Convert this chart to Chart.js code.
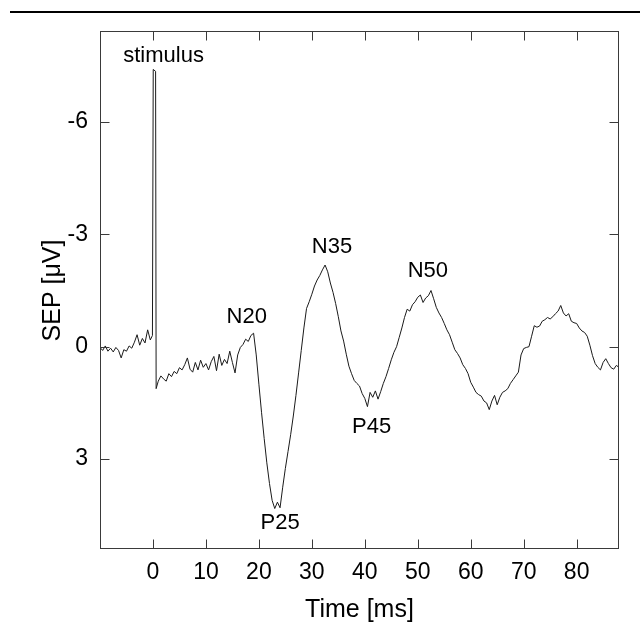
<!DOCTYPE html>
<html lang="en">
<head>
<meta charset="UTF-8">
<title>SEP</title>
<style>
  body { margin: 0; background: #fff; }
  #wrap { width: 640px; height: 626px; }
</style>
</head>
<body>
<div id="wrap"><canvas id="sepChart" width="640" height="626"></canvas></div>
<script src="https://cdn.jsdelivr.net/npm/chart.js"></script>
<script>
// time axis (ms)
const times = [
  -10, -9.5, -9, -8.5, -8, -7.5, -7, -6.5, -6, -5.5, -5, -4.5, -4, -3.5, -3, -2.5, -2, -1.5, -1, -0.5, -0.1,
  0.05, 0.5, 0.6,
  1, 1.5, 2, 2.5, 3, 3.5, 4, 4.5, 5, 5.5, 6, 6.5, 7, 7.5, 8, 8.5, 9, 9.5,
  10, 10.5, 11, 11.5, 12, 12.5, 13, 13.5, 14, 14.5, 15, 15.5, 16, 16.5, 17, 17.5, 18, 18.5, 19, 19.5,
  20, 20.5, 21, 21.5, 22, 22.5, 23, 23.5, 24, 24.5, 25, 25.5, 26, 26.5, 27, 27.5, 28, 28.5, 29, 29.5,
  30, 30.5, 31, 31.5, 32, 32.5, 33, 33.5, 34, 34.5, 35, 35.5, 36, 36.5, 37, 37.5, 38, 38.5, 39, 39.5,
  40, 40.5, 41, 41.5, 42, 42.5, 43, 43.5, 44, 44.5, 45, 45.5, 46, 46.5, 47, 47.5, 48, 48.5, 49, 49.5,
  50, 50.5, 51, 51.5, 52, 52.5, 53, 53.5, 54, 54.5, 55, 55.5, 56, 56.5, 57, 57.5, 58, 58.5, 59, 59.5,
  60, 60.5, 61, 61.5, 62, 62.5, 63, 63.5, 64, 64.5, 65, 65.5, 66, 66.5, 67, 67.5, 68, 68.5, 69, 69.5,
  70, 70.5, 71, 71.5, 72, 72.5, 73, 73.5, 74, 74.5, 75, 75.5, 76, 76.5, 77, 77.5, 78, 78.5, 79, 79.5,
  80, 80.5, 81, 81.5, 82, 82.5, 83, 83.5, 84, 84.5, 85, 85.5, 86, 86.5, 87, 87.5, 88
];
// SEP amplitude (uV), negative is up
const sep = [
  0.02, 0.10, -0.02, 0.12, 0.04, 0.14, 0.02, 0.10, 0.30, 0.08, 0.12, -0.02, 0.04, -0.12, -0.32, -0.04, -0.22, -0.10, -0.45, -0.18, -0.30,
  -7.4, -7.35, 1.12,
  0.92, 0.78, 0.86, 0.92, 0.72, 0.80, 0.66, 0.72, 0.56, 0.62, 0.48, 0.30, 0.60, 0.68, 0.42, 0.62, 0.36, 0.55,
  0.45, 0.62, 0.40, 0.26, 0.64, 0.20, 0.50, 0.34, 0.45, 0.12, 0.42, 0.70, 0.22, 0.02, -0.06, -0.20, -0.14, -0.30, -0.36, 0.22,
  1.00, 1.75, 2.45, 3.10, 3.65, 4.10, 4.32, 4.15, 4.30, 3.75, 3.25, 2.80, 2.35, 1.85, 1.30, 0.70, 0.10, -0.50, -1.02, -1.20,
  -1.40, -1.62, -1.78, -1.90, -2.05, -2.18, -2.00, -1.70, -1.45, -1.15, -0.80, -0.42, -0.15, 0.20, 0.52, 0.72, 0.90, 0.98, 1.05, 1.25,
  1.38, 1.60, 1.22, 1.35, 1.18, 1.40, 1.20, 0.98, 0.80, 0.58, 0.35, 0.15, 0.00, -0.25, -0.50, -0.78, -1.00, -0.95, -1.12, -1.20,
  -1.32, -1.38, -1.18, -1.30, -1.36, -1.50, -1.28, -1.05, -0.90, -0.78, -0.62, -0.45, -0.32, -0.12, 0.08, 0.18, 0.30, 0.48, 0.58, 0.72,
  0.95, 1.08, 1.22, 1.28, 1.32, 1.45, 1.50, 1.68, 1.45, 1.30, 1.55, 1.35, 1.22, 1.18, 1.12, 0.98, 0.88, 0.78, 0.68, 0.22,
  0.05, 0.02, 0.00, -0.28, -0.56, -0.52, -0.55, -0.68, -0.72, -0.78, -0.74, -0.80, -0.88, -0.95, -1.10, -0.90, -0.82, -0.88, -0.68, -0.64,
  -0.62, -0.50, -0.42, -0.38, -0.28, -0.04, 0.24, 0.45, 0.55, 0.62, 0.42, 0.32, 0.45, 0.56, 0.60, 0.50, 0.55
];

const xTicks = [0, 10, 20, 30, 40, 50, 60, 70, 80];
const yTicks = [-6, -3, 0, 3];

// peak labels: text, time (ms), amplitude (uV) of text baseline
const peakNames = ['stimulus', 'N20', 'P25', 'N35', 'P45', 'N50'];
const peakTimes = [2.0, 17.7, 24.0, 33.8, 41.3, 51.9];
const peakAmps = [-7.59, -0.62, 4.87, -2.49, 2.31, -1.85];

const FONT = "'Liberation Sans', Arial, Helvetica, sans-serif";

const boxPlugin = {
  id: 'boxPlugin',
  afterDraw(chart) {
    const ctx = chart.ctx;
    const a = chart.chartArea;
    const xs = chart.scales.x, ys = chart.scales.y;
    const L = Math.round(a.left) + 0.5, R = Math.round(a.right) - 0.5;
    const T = Math.round(a.top) - 0.5, B = Math.round(a.bottom) - 0.5;
    ctx.save();
    // rule across the top of the page
    ctx.fillStyle = '#000';
    ctx.fillRect(10, 11, 630, 2);
    // frame
    ctx.strokeStyle = '#3a3a3a';
    ctx.lineWidth = 1;
    ctx.strokeRect(L, T, R - L, B - T);
    // inward ticks on all four sides
    ctx.beginPath();
    xTicks.forEach(v => {
      const px = Math.round(xs.getPixelForValue(v)) + 0.5;
      ctx.moveTo(px, B); ctx.lineTo(px, B - 9);
      ctx.moveTo(px, T); ctx.lineTo(px, T + 9);
    });
    yTicks.forEach(v => {
      const py = Math.round(ys.getPixelForValue(v)) + 0.5;
      ctx.moveTo(L, py); ctx.lineTo(L + 9, py);
      ctx.moveTo(R, py); ctx.lineTo(R - 9, py);
    });
    ctx.stroke();
    // peak labels
    ctx.fillStyle = '#000';
    ctx.font = '22px ' + FONT;
    ctx.textAlign = 'center';
    ctx.textBaseline = 'alphabetic';
    peakNames.forEach((n, i) => {
      ctx.fillText(n, xs.getPixelForValue(peakTimes[i]), ys.getPixelForValue(peakAmps[i]));
    });
    ctx.restore();
  }
};

new Chart(document.getElementById('sepChart').getContext('2d'), {
  type: 'line',
  data: {
    datasets: [{
      data: times.map((t, i) => ({ x: t, y: sep[i] })),
      borderColor: '#1a1a1a',
      borderWidth: 1,
      pointRadius: 0,
      tension: 0,
      fill: false
    }]
  },
  options: {
    responsive: false,
    animation: false,
    layout: { padding: { top: 32, right: 21, left: 0, bottom: 0 } },
    plugins: { legend: { display: false }, tooltip: { enabled: false } },
    scales: {
      x: {
        type: 'linear',
        min: -10, max: 88,
        afterFit(s) { s.height = 77; },
        afterBuildTicks(s) { s.ticks = xTicks.map(v => ({ value: v })); },
        grid: { display: false, drawTicks: false },
        border: { display: false },
        ticks: { padding: 10, color: '#000', font: { family: FONT, size: 23 }, maxRotation: 0 },
        title: { display: true, text: 'Time [ms]', color: '#000', font: { family: FONT, size: 25 }, padding: { top: 0, bottom: 1 } }
      },
      y: {
        type: 'linear',
        reverse: true,
        min: -8.4, max: 5.4,
        afterFit(s) { s.width = 100; },
        afterBuildTicks(s) { s.ticks = yTicks.map(v => ({ value: v })); },
        grid: { display: false, drawTicks: false },
        border: { display: false },
        ticks: { padding: 12, color: '#000', font: { family: FONT, size: 23 } },
        title: { display: true, text: 'SEP [μV]', color: '#000', font: { family: FONT, size: 25 }, padding: { top: 38, bottom: 0 } }
      }
    }
  },
  plugins: [boxPlugin]
});
</script>
</body>
</html>
